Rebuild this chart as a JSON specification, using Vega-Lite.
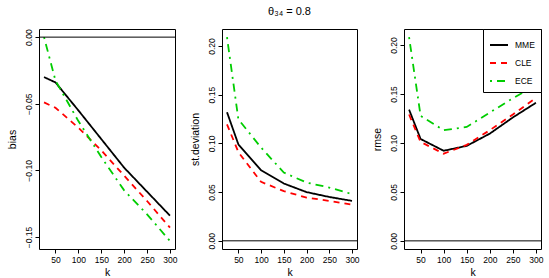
{
  "$schema": "https://vega.github.io/schema/vega-lite/v6.json",
  "padding": {"left": 6, "top": 5, "right": 5, "bottom": 0},
  "spacing": 11,
  "datasets": {
    "d": [
      {"k": 25, "est": "MME", "bias": -0.030, "sd": 0.132, "rmse": 0.134},
      {"k": 50, "est": "MME", "bias": -0.034, "sd": 0.099, "rmse": 0.104},
      {"k": 100, "est": "MME", "bias": -0.055, "sd": 0.0725, "rmse": 0.092},
      {"k": 150, "est": "MME", "bias": -0.0765, "sd": 0.0588, "rmse": 0.097},
      {"k": 200, "est": "MME", "bias": -0.098, "sd": 0.050, "rmse": 0.1095},
      {"k": 250, "est": "MME", "bias": -0.116, "sd": 0.045, "rmse": 0.126},
      {"k": 300, "est": "MME", "bias": -0.134, "sd": 0.041, "rmse": 0.141},
      {"k": 25, "est": "CLE", "bias": -0.049, "sd": 0.1196, "rmse": 0.129},
      {"k": 50, "est": "CLE", "bias": -0.053, "sd": 0.091, "rmse": 0.101},
      {"k": 100, "est": "CLE", "bias": -0.068, "sd": 0.0605, "rmse": 0.089},
      {"k": 150, "est": "CLE", "bias": -0.085, "sd": 0.051, "rmse": 0.098},
      {"k": 200, "est": "CLE", "bias": -0.104, "sd": 0.0444, "rmse": 0.113},
      {"k": 250, "est": "CLE", "bias": -0.123, "sd": 0.041, "rmse": 0.129},
      {"k": 300, "est": "CLE", "bias": -0.143, "sd": 0.037, "rmse": 0.146},
      {"k": 25, "est": "ECE", "bias": 0.0, "sd": 0.209, "rmse": 0.208},
      {"k": 50, "est": "ECE", "bias": -0.0326, "sd": 0.1247, "rmse": 0.1276},
      {"k": 100, "est": "ECE", "bias": -0.063, "sd": 0.0957, "rmse": 0.113},
      {"k": 150, "est": "ECE", "bias": -0.090, "sd": 0.070, "rmse": 0.1163},
      {"k": 200, "est": "ECE", "bias": -0.115, "sd": 0.0598, "rmse": 0.131},
      {"k": 250, "est": "ECE", "bias": -0.133, "sd": 0.0547, "rmse": 0.1456},
      {"k": 300, "est": "ECE", "bias": -0.153, "sd": 0.048, "rmse": 0.159}
    ]
  },
  "config": {
    "font": "Liberation Sans",
    "view": {"stroke": "black", "strokeWidth": 1},
    "axis": {
      "grid": false, "domain": false, "tickColor": "black", "tickSize": 4,
      "labelFontSize": 8.5, "labelColor": "black", "labelPadding": 2,
      "titleFontSize": 10.5, "titleFontWeight": "normal", "titleColor": "black"
    },
    "axisY": {"labelAngle": -90, "labelAlign": "center", "labelBaseline": "bottom", "titlePadding": 7},
    "axisX": {"titlePadding": 4},
    "title": {"fontSize": 11, "fontWeight": "normal", "offset": 12, "color": "black"}
  },
  "resolve": {"scale": {"color": "independent", "strokeDash": "independent"}},
  "hconcat": [
    {
      "width": 136, "height": 220,
      "layer": [
        {
          "data": {"name": "d"},
          "mark": {"type": "line", "strokeWidth": 1.8},
          "encoding": {
            "x": {"field": "k", "type": "quantitative", "scale": {"domain": [14, 311], "nice": false, "zero": false}, "axis": {"values": [50, 100, 150, 200, 250, 300], "title": "k"}},
            "y": {"field": "bias", "type": "quantitative", "scale": {"domain": [-0.159, 0.0061], "nice": false, "zero": false}, "axis": {"values": [0, -0.05, -0.1, -0.15], "format": ".2f", "title": "bias"}},
            "color": {"field": "est", "type": "nominal", "scale": {"domain": ["MME", "CLE", "ECE"], "range": ["black", "#FF0000", "#00CD00"]}, "legend": null},
            "strokeDash": {"field": "est", "type": "nominal", "scale": {"domain": ["MME", "CLE", "ECE"], "range": [[1, 0], [6, 5], [2, 5, 8, 5]]}, "legend": null}
          }
        },
        {
          "data": {"values": [{}]},
          "mark": {"type": "rule", "color": "black", "strokeWidth": 1},
          "encoding": {"y": {"datum": 0}}
        }
      ]
    },
    {
      "width": 135, "height": 220,
      "title": {"text": "θ₃₄ = 0.8"},
      "layer": [
        {
          "data": {"name": "d"},
          "mark": {"type": "line", "strokeWidth": 1.8},
          "encoding": {
            "x": {"field": "k", "type": "quantitative", "scale": {"domain": [14, 311], "nice": false, "zero": false}, "axis": {"values": [50, 100, 150, 200, 250, 300], "title": "k"}},
            "y": {"field": "sd", "type": "quantitative", "scale": {"domain": [-0.0084, 0.2174], "nice": false, "zero": false}, "axis": {"values": [0, 0.05, 0.1, 0.15, 0.2], "format": ".2f", "title": "st.deviation"}},
            "color": {"field": "est", "type": "nominal", "scale": {"domain": ["MME", "CLE", "ECE"], "range": ["black", "#FF0000", "#00CD00"]}, "legend": null},
            "strokeDash": {"field": "est", "type": "nominal", "scale": {"domain": ["MME", "CLE", "ECE"], "range": [[1, 0], [6, 5], [2, 5, 8, 5]]}, "legend": null}
          }
        },
        {
          "data": {"values": [{}]},
          "mark": {"type": "rule", "color": "black", "strokeWidth": 1},
          "encoding": {"y": {"datum": 0}}
        }
      ]
    },
    {
      "width": 137, "height": 220,
      "layer": [
        {
          "data": {"name": "d"},
          "mark": {"type": "line", "strokeWidth": 1.8},
          "encoding": {
            "x": {"field": "k", "type": "quantitative", "scale": {"domain": [14, 311], "nice": false, "zero": false}, "axis": {"values": [50, 100, 150, 200, 250, 300], "title": "k"}},
            "y": {"field": "rmse", "type": "quantitative", "scale": {"domain": [-0.0083, 0.2163], "nice": false, "zero": false}, "axis": {"values": [0, 0.05, 0.1, 0.15, 0.2], "format": ".2f", "title": "rmse"}},
            "color": {"field": "est", "type": "nominal", "scale": {"domain": ["MME", "CLE", "ECE"], "range": ["black", "#FF0000", "#00CD00"]},
              "legend": {"title": null, "orient": "top-right", "offset": 0, "strokeColor": "black", "fillColor": "white", "padding": 6, "symbolType": "stroke", "symbolSize": 324, "symbolStrokeWidth": 1.8, "labelFontSize": 8.5, "labelOffset": 6, "labelAlign": "left", "rowPadding": 3, "labelColor": "black"}},
            "strokeDash": {"field": "est", "type": "nominal", "scale": {"domain": ["MME", "CLE", "ECE"], "range": [[1, 0], [6, 5], [2, 5, 8, 5]]},
              "legend": {"title": null, "orient": "top-right", "offset": 0, "strokeColor": "black", "fillColor": "white", "padding": 6, "symbolType": "stroke", "symbolSize": 324, "symbolStrokeWidth": 1.8, "labelFontSize": 8.5, "labelOffset": 6, "labelAlign": "left", "rowPadding": 3, "labelColor": "black"}}
          }
        },
        {
          "data": {"values": [{}]},
          "mark": {"type": "rule", "color": "black", "strokeWidth": 1},
          "encoding": {"y": {"datum": 0}}
        }
      ]
    }
  ]
}
